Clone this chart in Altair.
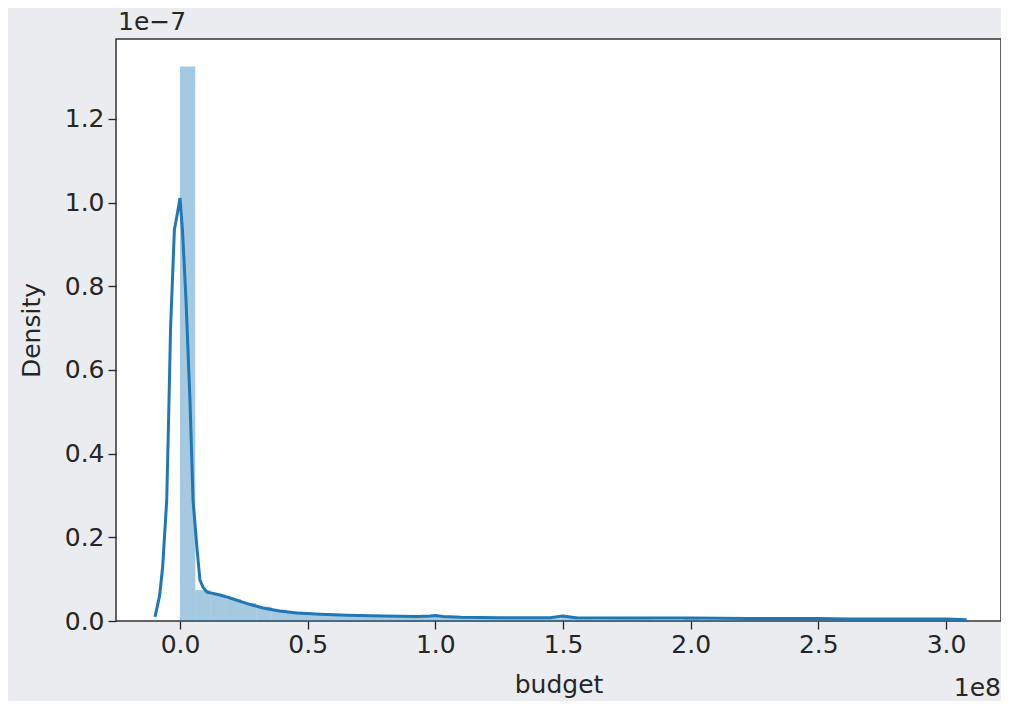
import altair as alt
import numpy as np
import pandas as pd

# ---- data (x in units of 1e8, density in units of 1e-7) ----
hist_heights = [1.325, 0.074, 0.062, 0.052, 0.043, 0.034, 0.027, 0.022, 0.019, 0.016,
                0.014, 0.013, 0.012, 0.011, 0.010, 0.010, 0.013, 0.008, 0.007, 0.007,
                0.007, 0.006, 0.006, 0.005, 0.006, 0.012, 0.005, 0.004, 0.004, 0.004,
                0.004, 0.003, 0.003, 0.006, 0.003, 0.003, 0.003, 0.003, 0.002, 0.002,
                0.002, 0.004, 0.002, 0.002, 0.002, 0.002, 0.002, 0.002, 0.002, 0.003]
hist_min = 0.0
hist_max = 2.99

kde_x = [-0.098, -0.08, -0.068, -0.052, -0.043, -0.037, -0.022, -0.01, 0.0, 0.01,
         0.0235, 0.039, 0.051, 0.067, 0.078, 0.090, 0.106, 0.157, 0.196, 0.26,
         0.325, 0.39, 0.458, 0.55, 0.654, 0.8, 0.93, 0.979, 1.0, 1.03,
         1.1, 1.25, 1.45, 1.5, 1.55, 1.72, 2.0, 2.23, 2.5, 2.62, 3.0, 3.081]
kde_y = [0.010, 0.060, 0.129, 0.289, 0.528, 0.700, 0.935, 0.975, 1.011, 0.930,
         0.767, 0.528, 0.289, 0.170, 0.098, 0.081, 0.069, 0.062, 0.055, 0.042,
         0.031, 0.024, 0.019, 0.016, 0.014, 0.012, 0.011, 0.012, 0.013, 0.011,
         0.009, 0.008, 0.008, 0.012, 0.008, 0.007, 0.007, 0.006, 0.006, 0.005,
         0.005, 0.003]

x_ticks = [0.0, 0.5, 1.0, 1.5, 2.0, 2.5, 3.0]
y_ticks = [0.0, 0.2, 0.4, 0.6, 0.8, 1.0, 1.2]
x_domain = [-0.2507, 3.2154]
y_domain = [0.0, 1.391]

edges = np.linspace(hist_min, hist_max, len(hist_heights) + 1)
hist_df = pd.DataFrame({"x0": edges[:-1], "x1": edges[1:], "h": hist_heights,
                        "base": [0.0] * len(hist_heights)})
kde_df = pd.DataFrame({"x": kde_x, "y": kde_y})

C0 = "#1f77b4"
TXT = "#262626"
FS = 25
FONT = "DejaVu Sans"
W, H = 885, 582

xscale = alt.Scale(domain=x_domain, nice=False, zero=False)
yscale = alt.Scale(domain=y_domain, nice=False)

xaxis = alt.Axis(values=x_ticks, format=".1f", title="budget", grid=False, domain=False,
                 tickSize=8, tickColor=TXT, tickWidth=1.3, labelPadding=3,
                 labelFontSize=FS, labelColor=TXT, labelFont=FONT,
                 titleFontSize=FS, titleColor=TXT, titleFont=FONT,
                 titleFontWeight="normal", titlePadding=15)
yaxis = alt.Axis(values=y_ticks, format=".1f", title="Density", grid=False, domain=False,
                 tickSize=8, tickColor=TXT, tickWidth=1.3, labelPadding=4,
                 labelFontSize=FS, labelColor=TXT, labelFont=FONT,
                 titleFontSize=FS, titleColor=TXT, titleFont=FONT,
                 titleFontWeight="normal", titlePadding=20)

hist = alt.Chart(hist_df).mark_rect(color=C0, opacity=0.4, strokeWidth=0).encode(
    x=alt.X("x0:Q", scale=xscale, axis=xaxis),
    x2="x1:Q",
    y=alt.Y("h:Q", scale=yscale, axis=yaxis),
    y2="base:Q",
)

kde = alt.Chart(kde_df).mark_line(color=C0, strokeWidth=3).encode(
    x=alt.X("x:Q", scale=xscale),
    y=alt.Y("y:Q", scale=yscale),
)

off_df = pd.DataFrame({"t": ["1e\u22127"]})
off_y = alt.Chart(off_df).mark_text(align="left", baseline="middle", fontSize=FS,
                                    font=FONT, color=TXT).encode(
    text="t:N", x=alt.value(2), y=alt.value(-17))
off_df2 = pd.DataFrame({"t": ["1e8"]})
off_x = alt.Chart(off_df2).mark_text(align="right", baseline="middle", fontSize=FS,
                                     font=FONT, color=TXT).encode(
    text="t:N", x=alt.value(W), y=alt.value(H + 67))

chart = alt.layer(hist, kde, off_y, off_x).properties(
    width=W, height=H,
    background="#eaecef",
    padding={"left": 108, "top": 31, "right": 0, "bottom": 80},
    autosize=alt.AutoSizeParams(type="none"),
).configure_view(fill="white", stroke="#333333", strokeWidth=1.5)

chart.save("out.html", embed_options={"renderer": "svg", "actions": False})
